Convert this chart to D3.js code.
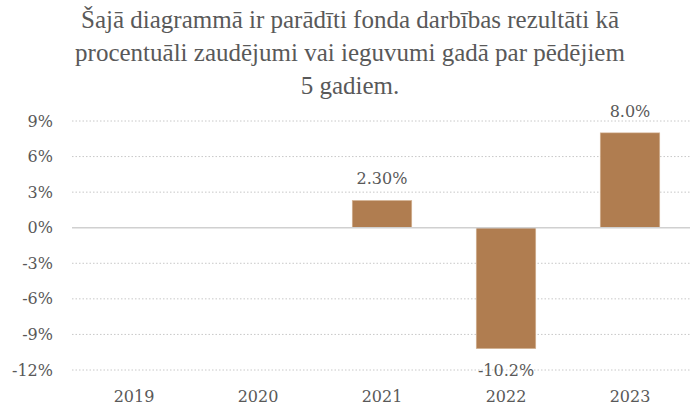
<!DOCTYPE html>
<html>
<head>
<meta charset="utf-8">
<script src="https://cdn.jsdelivr.net/npm/d3@7"></script>
<style>
  body { margin: 0; background: #fff; }
  text { font-family: "DejaVu Serif", serif; fill: #595959; }
  .title { font-family: "Liberation Serif", serif; }
</style>
</head>
<body>
<div id="chart"></div>
<script>
// data
const years = ["2019", "2020", "2021", "2022", "2023"];
const returns = [null, null, 2.3, -10.2, 8.0];
const valueLabels = [null, null, "2.30%", "-10.2%", "8.0%"];
const yTicks = [9, 6, 3, 0, -3, -6, -9, -12];
const titleLines = [
  "Šajā diagrammā ir parādīti fonda darbības rezultāti kā",
  "procentuāli zaudējumi vai ieguvumi gadā par pēdējiem",
  "5 gadiem."
];

const W = 690, H = 406;
const margin = {top: 121, right: -2, bottom: 36, left: 72};

const svg = d3.select("#chart")
  .append("svg")
  .attr("width", W)
  .attr("height", H);

// title
svg.append("text")
  .attr("class", "title")
  .attr("text-anchor", "middle")
  .style("font-size", "25px")
  .selectAll("tspan")
  .data(titleLines)
  .join("tspan")
  .attr("x", 350)
  .attr("y", (d, i) => 28 + i * 33)
  .text(d => d);

const x = d3.scaleBand()
  .domain(years)
  .range([margin.left, W - margin.right])
  .paddingInner(0.52)
  .paddingOuter(0.26);

const y = d3.scaleLinear()
  .domain([-12, 9])
  .range([H - margin.bottom, margin.top]);

// gridlines
svg.append("g")
  .selectAll("line")
  .data(yTicks.filter(d => d !== 0))
  .join("line")
  .attr("x1", margin.left)
  .attr("x2", W)
  .attr("y1", d => y(d))
  .attr("y2", d => y(d))
  .attr("stroke", "#c8c8c8")
  .attr("stroke-width", 1)
  .attr("stroke-dasharray", "1.5,2");

// y axis labels
const yAxis = svg.append("g")
  .attr("transform", `translate(${margin.left},0)`)
  .call(d3.axisLeft(y).tickValues(yTicks).tickFormat(d => d + "%").tickSize(0).tickPadding(19));
yAxis.select(".domain").remove();
yAxis.selectAll("text").style("font-size", "16px").attr("fill", "#595959");

// bars
const barData = years.map((yr, i) => ({year: yr, value: returns[i], label: valueLabels[i]}))
  .filter(d => d.value !== null);

svg.append("g")
  .selectAll("rect")
  .data(barData)
  .join("rect")
  .attr("x", d => x(d.year))
  .attr("width", x.bandwidth())
  .attr("y", d => y(Math.max(0, d.value)))
  .attr("height", d => Math.abs(y(d.value) - y(0)))
  .attr("fill", "#b07d50")
  .attr("stroke", "#d6b89a")
  .attr("stroke-width", 0.6);

// zero line
svg.append("line")
  .attr("x1", margin.left)
  .attr("x2", W)
  .attr("y1", y(0))
  .attr("y2", y(0))
  .attr("stroke", "#d0d0d0")
  .attr("stroke-width", 1.5);

// value labels
svg.append("g")
  .selectAll("text")
  .data(barData)
  .join("text")
  .attr("text-anchor", "middle")
  .attr("x", d => x(d.year) + x.bandwidth() / 2)
  .attr("y", d => d.value >= 0 ? y(d.value) - 16 : y(d.value) + 27)
  .style("font-size", "16px")
  .text(d => d.label);

// x axis labels
const xAxis = svg.append("g")
  .attr("transform", `translate(0,${H - margin.bottom})`)
  .call(d3.axisBottom(x).tickSize(0).tickPadding(21));
xAxis.select(".domain").remove();
xAxis.selectAll("text").style("font-size", "16px").attr("fill", "#595959");
</script>
</body>
</html>
